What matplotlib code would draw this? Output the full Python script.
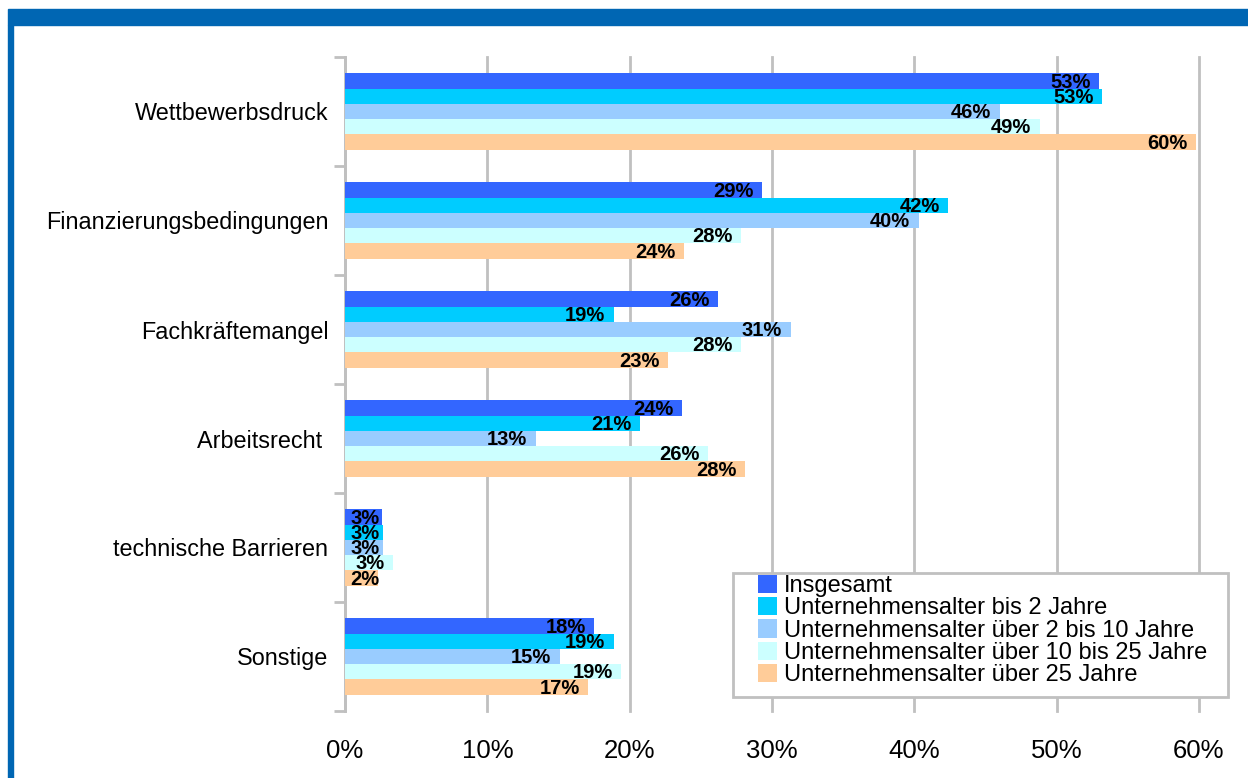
import numpy as np
import matplotlib.pyplot as plt
from matplotlib.patches import Rectangle

plt.rcParams['font.family'] = ['Liberation Sans', 'DejaVu Sans']

# Chart data
categories = ['Wettbewerbsdruck', 'Finanzierungsbedingungen', 'Fachkräftemangel',
              'Arbeitsrecht ', 'technische Barrieren', 'Sonstige']
series_names = ['Insgesamt', 'Unternehmensalter bis 2 Jahre',
                'Unternehmensalter über 2 bis 10 Jahre',
                'Unternehmensalter über 10 bis 25 Jahre',
                'Unternehmensalter über 25 Jahre']
insgesamt = [53.0, 29.3, 26.2, 23.7, 2.6, 17.5]
bis_2 = [53.2, 42.4, 18.9, 20.7, 2.7, 18.9]
von_2_bis_10 = [46.0, 40.3, 31.3, 13.4, 2.7, 15.1]
von_10_bis_25 = [48.8, 27.8, 27.8, 25.5, 3.4, 19.4]
ueber_25 = [59.8, 23.8, 22.7, 28.1, 2.3, 17.1]
colors = ['#3366ff', '#00ccff', '#99ccff', '#ccffff', '#ffcc99']

series = [insgesamt, bis_2, von_2_bis_10, von_10_bis_25, ueber_25]

W, H = 1248, 778
fig = plt.figure(figsize=(W / 100, H / 100), dpi=100)
ax = fig.add_axes([345 / W, 1 - 711 / H, 854 / W, 654 / H])

n_cat = len(categories)
y = np.arange(n_cat)
bar_h = 0.14
for i, (vals, name, col) in enumerate(zip(series, series_names, colors)):
    pos = y - 2 * bar_h + i * bar_h
    ax.barh(pos, vals, height=bar_h, color=col, label=name, zorder=3)
    for p, v in zip(pos, vals):
        # labels sit inside the bar end; very short bars keep them from the axis
        if v < 3.0:
            x, ha = 0.4, 'left'
        else:
            x, ha = v - 0.6, 'right'
        ax.text(x, p + 0.01, f'{v:.0f}%', ha=ha, va='center',
                fontsize=14.5, fontweight='bold', color='black', zorder=4)

ax.set_xlim(0, 60)
ax.set_ylim(n_cat - 0.5, -0.5)
ax.set_xticks(np.arange(0, 61, 10))
ax.set_xticklabels([f'{t}%' for t in range(0, 61, 10)], fontsize=18.5)
ax.tick_params(axis='x', length=0, pad=20)
ax.xaxis.grid(True, color='#c0c0c0', linewidth=2, zorder=0)
for gl in ax.get_xgridlines():
    gl.set_clip_on(False)

# category labels and boundary ticks
ax.set_yticks(y)
ax.set_yticklabels(categories, fontsize=16.8)
ax.tick_params(axis='y', which='major', length=0, pad=12)
ax.set_yticks(np.arange(-0.5, n_cat, 1), minor=True)
ax.tick_params(axis='y', which='minor', length=8, width=2, color='#c0c0c0')

for s in ['top', 'right', 'bottom']:
    ax.spines[s].set_visible(False)
ax.spines['left'].set_color('#c0c0c0')
ax.spines['left'].set_linewidth(2)

# legend box drawn separately, entries placed inside
ax.add_patch(Rectangle((733 / W, 1 - 697 / H), 495 / W, 124 / H,
                       transform=fig.transFigure, facecolor='white',
                       edgecolor='#c0c0c0', linewidth=2, zorder=5, clip_on=False))
leg = ax.legend(loc='upper left', bbox_to_anchor=(758 / W, 1 - 575 / H),
                bbox_transform=fig.transFigure, fontsize=17,
                frameon=False, handlelength=0.8, handleheight=0.8,
                handletextpad=0.3, labelspacing=0.0, borderpad=0, borderaxespad=0)
leg.set_zorder(6)

# blue frame
blue = '#0066b3'
fig.patches.append(Rectangle((8 / W, 1 - 25 / H), 1 - 8 / W, 16 / H,
                             transform=fig.transFigure, color=blue, zorder=0))
fig.patches.append(Rectangle((8 / W, 0), 5 / W, 1 - 25 / H,
                             transform=fig.transFigure, color=blue, zorder=0))

fig.savefig('out.png', dpi=100)
